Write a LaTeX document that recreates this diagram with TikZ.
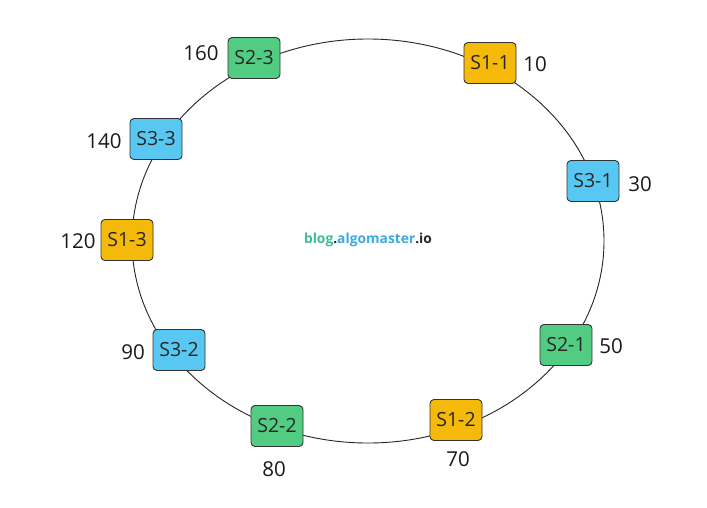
\documentclass[tikz,border=0pt]{standalone}
\usepackage{fontspec}
\setmainfont{Open Sans}
\definecolor{gbox}{HTML}{52CC82}
\definecolor{obox}{HTML}{F5B90A}
\definecolor{bbox}{HTML}{58C8F2}
\definecolor{edgec}{HTML}{333333}
\definecolor{bloggreen}{HTML}{3DBE8B}
\definecolor{blogblue}{HTML}{3AAAE3}
\begin{document}
\begin{tikzpicture}[x=1pt,y=-1pt,
  srv/.style={draw=edgec, line width=0.9pt, rounded corners=4pt, minimum width=52pt, minimum height=41pt, inner sep=0pt, font=\fontsize{19.5}{21}\selectfont, text=black!85},
  gs/.style={srv, fill=gbox},
  os/.style={srv, fill=obox},
  bs/.style={srv, fill=bbox},
  num/.style={font=\fontsize{20.5}{22}\selectfont, text=black!90, inner sep=0pt}]
\useasboundingbox (0,0) rectangle (707,507);
\fill[white] (0,0) rectangle (707,507);
\draw[line width=0.9pt, black!85] (368,241) ellipse [x radius=236, y radius=202];
\node[gs] (s23) at (254,58) {S2-3};
\node[os] (s11) at (490,63) {S1-1};
\node[bs] (s33) at (156,139) {S3-3};
\node[os] (s13) at (127,240) {S1-3};
\node[bs] (s31) at (593,181) {S3-1};
\node[gs] (s21) at (566,345) {S2-1};
\node[os] (s12) at (456,420) {S1-2};
\node[gs] (s22) at (277,426) {S2-2};
\node[bs] (s32) at (179,350) {S3-2};
\node[num] (n160) at (201,53) {160};
\node[num] (n10) at (535,64) {10};
\node[num] (n30) at (640,184) {30};
\node[num] (n50) at (611,346) {50};
\node[num] (n70) at (458,459) {70};
\node[num] (n80) at (274,469) {80};
\node[num] (n90) at (133,352) {90};
\node[num] (n120) at (78,241) {120};
\node[num] (n140) at (104,141) {140};
\node (blog) at (368,240) {\fontsize{13.8}{15}\selectfont\bfseries\textcolor{bloggreen}{blog}\textcolor{black!85}{.}\textcolor{blogblue}{algomaster}\textcolor{black!85}{.io}};
\end{tikzpicture}
\end{document}
